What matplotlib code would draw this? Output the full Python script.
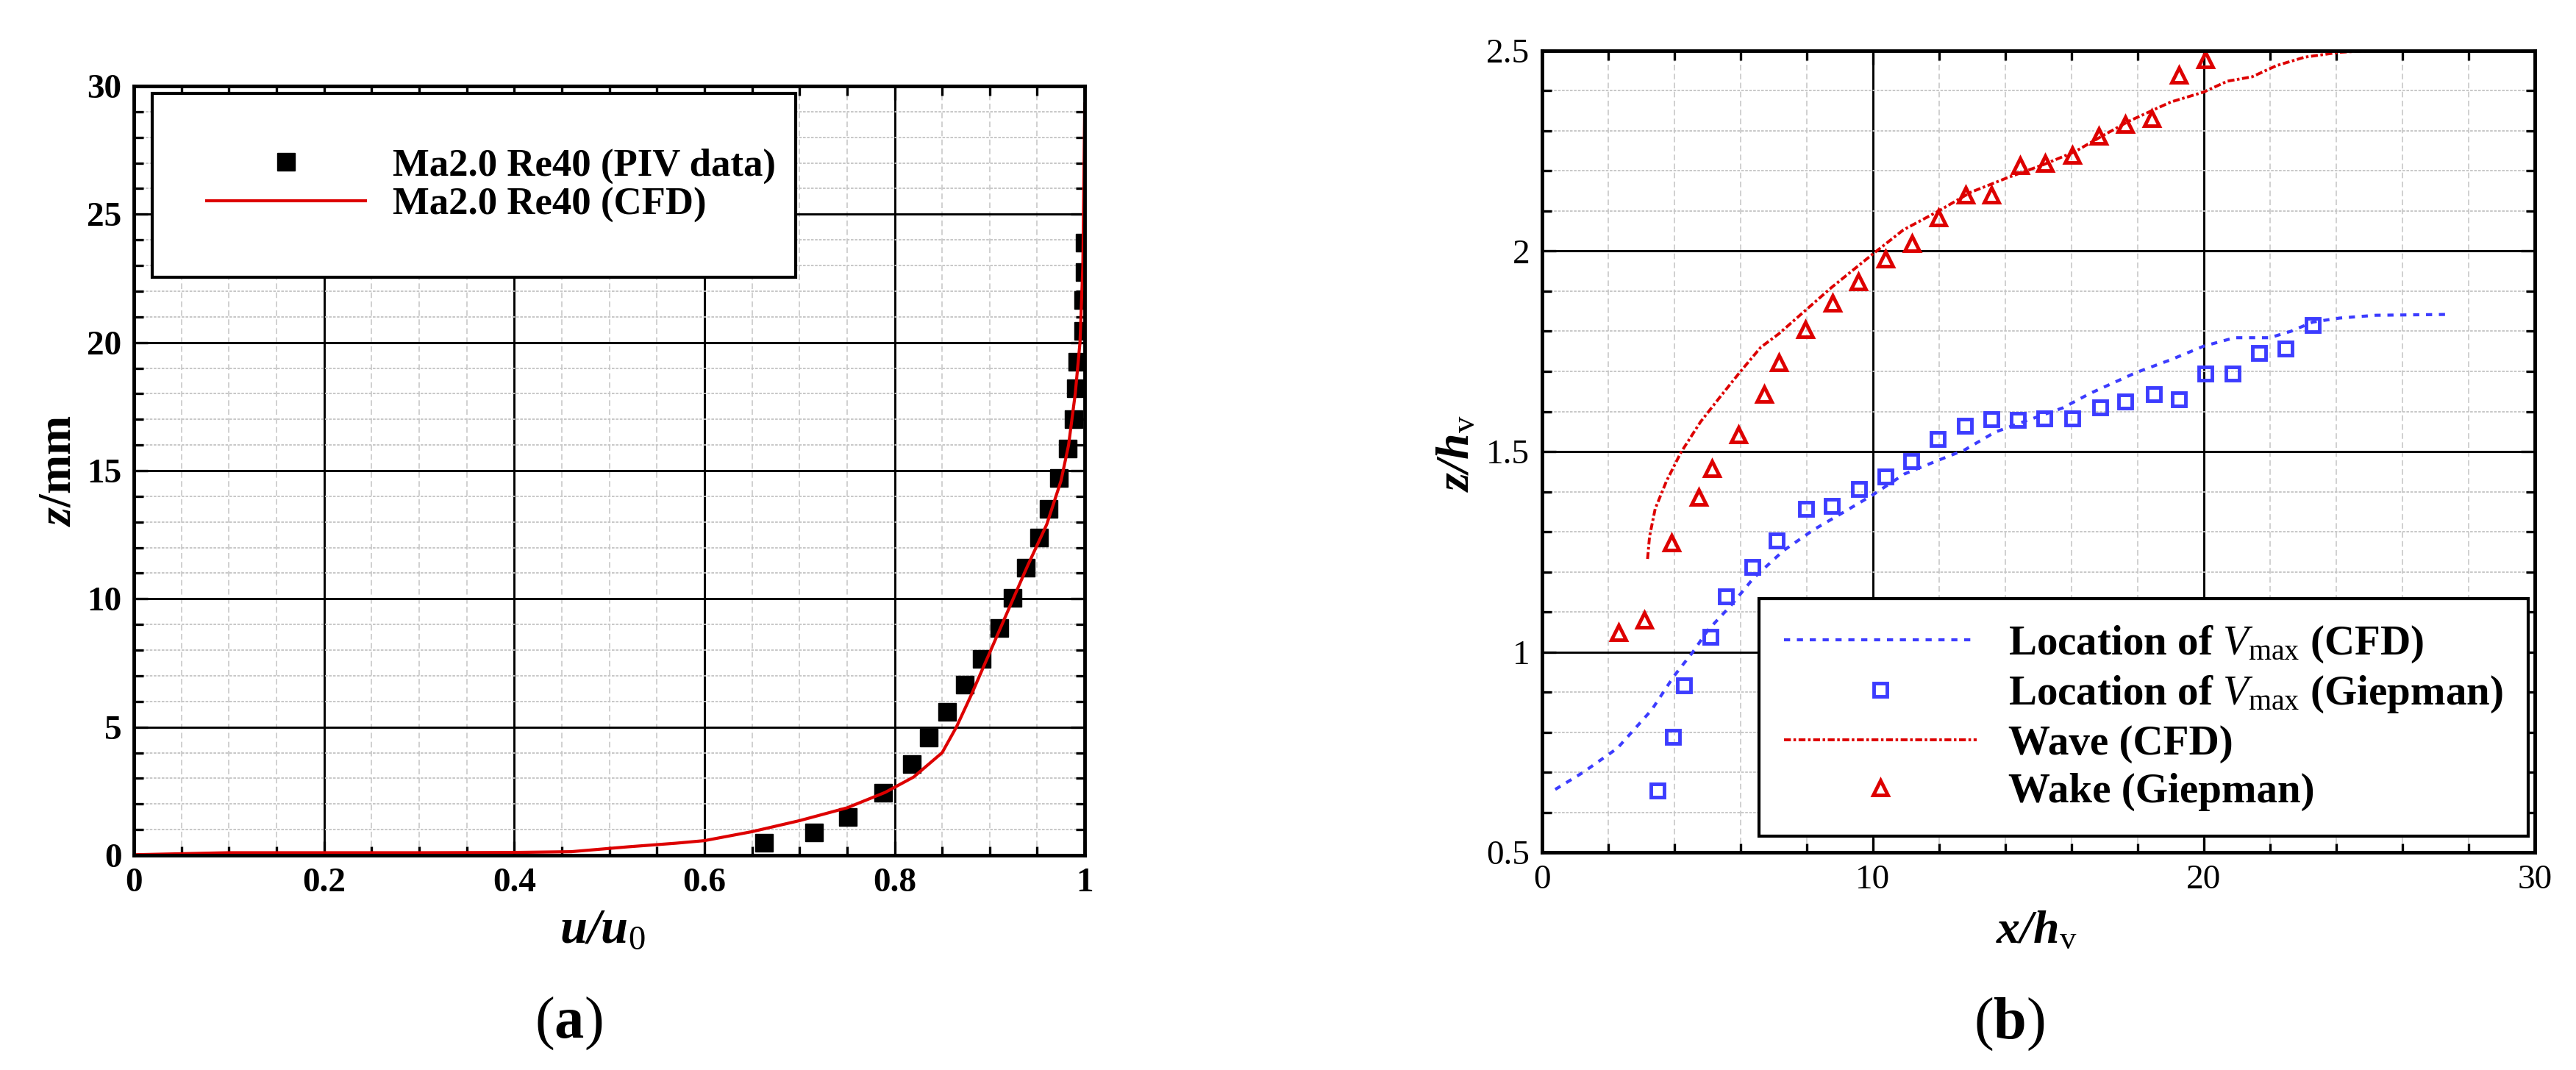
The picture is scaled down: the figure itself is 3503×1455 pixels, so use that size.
import numpy as np
import matplotlib
matplotlib.use("Agg")
import matplotlib.pyplot as plt
from matplotlib.ticker import MultipleLocator, FixedLocator, FixedFormatter

plt.rcParams['font.family'] = ['Liberation Serif', 'DejaVu Serif']
plt.rcParams['mathtext.fontset'] = 'custom'
plt.rcParams['mathtext.rm'] = 'Liberation Serif'
plt.rcParams['mathtext.it'] = 'Liberation Serif:italic'
plt.rcParams['mathtext.bf'] = 'Liberation Serif:bold'
plt.rcParams['mathtext.bfit'] = 'Liberation Serif:italic:bold'

# ---- (a) velocity profile ----
piv_u = [0.663, 0.715, 0.751, 0.788, 0.818, 0.836, 0.855, 0.874, 0.892, 0.910, 0.924, 0.938,
         0.952, 0.962, 0.973, 0.982, 0.988, 0.991, 0.992, 0.998, 0.998, 1.0, 1.0]
piv_z = [0.5, 0.9, 1.5, 2.45, 3.55, 4.6, 5.6, 6.65, 7.65, 8.85, 10.05, 11.2,
         12.4, 13.5, 14.7, 15.85, 17.0, 18.2, 19.25, 20.45, 21.65, 22.75, 23.9]
cfd_u = [0.0, 0.05, 0.1, 0.2, 0.3, 0.4, 0.46, 0.52, 0.57, 0.6, 0.65, 0.7, 0.75, 0.79, 0.82,
         0.85, 0.865, 0.88, 0.90, 0.92, 0.94, 0.96, 0.975, 0.983, 0.99, 0.995, 0.998, 0.999, 1.0]
cfd_z = [0.02, 0.06, 0.1, 0.1, 0.1, 0.11, 0.14, 0.33, 0.47, 0.57, 0.92, 1.35, 1.85, 2.45, 3.05,
         4.0, 5.0, 6.2, 7.9, 9.6, 11.3, 12.9, 14.6, 16.0, 18.0, 20.0, 23.0, 26.0, 29.3]
a_xticks = [0, 0.2, 0.4, 0.6, 0.8, 1.0]
a_xlabels = ['0', '0.2', '0.4', '0.6', '0.8', '1']
a_yticks = [0, 5, 10, 15, 20, 25, 30]
a_ylabels = ['0', '5', '10', '15', '20', '25', '30']

# ---- (b) vortex / wake location ----
vmax_cfd_x = [0.4, 1.25, 2.28, 3.31, 3.99, 4.56, 5.02, 5.7, 6.39, 7.3, 8.21, 9.12, 10.0, 10.95,
              11.97, 12.77, 13.68, 14.37, 15.74, 16.56, 17.95, 19.0, 20.0, 20.93, 21.99, 22.63,
              23.29, 24.1, 25.2, 27.3]
vmax_cfd_z = [0.657, 0.70, 0.76, 0.855, 0.94, 1.0, 1.055, 1.115, 1.184, 1.253, 1.305, 1.349, 1.392,
              1.444, 1.478, 1.504, 1.548, 1.569, 1.609, 1.645, 1.697, 1.729, 1.763, 1.784, 1.784,
              1.80, 1.823, 1.833, 1.84, 1.842]
vmax_exp_x = [3.5, 3.96, 4.28, 5.10, 5.55, 6.36, 7.10, 7.98, 8.75, 9.58, 10.38, 11.15, 11.95, 12.77,
              13.57, 14.37, 15.18, 16.03, 16.86, 17.63, 18.48, 19.24, 20.05, 20.87, 21.67, 22.47, 23.29]
vmax_exp_z = [0.655, 0.789, 0.916, 1.037, 1.139, 1.212, 1.278, 1.356, 1.364, 1.407, 1.437, 1.476,
              1.532, 1.565, 1.58, 1.578, 1.582, 1.582, 1.61, 1.624, 1.643, 1.631, 1.694, 1.694,
              1.746, 1.756, 1.816]
wave_cfd_x = [3.19, 3.25, 3.42, 3.76, 4.2, 4.79, 5.36, 5.99, 6.61, 7.16, 8.73, 10.0, 10.92, 11.94,
              12.96, 14.06, 15.16, 16.1, 16.88, 17.73, 19.0, 20.0, 20.71, 21.46, 22.2, 23.05, 24.1, 24.97]
wave_cfd_z = [1.232, 1.288, 1.357, 1.426, 1.498, 1.574, 1.634, 1.699, 1.76, 1.794, 1.908, 1.993,
              2.053, 2.098, 2.147, 2.183, 2.216, 2.248, 2.285, 2.324, 2.372, 2.397, 2.424, 2.435,
              2.463, 2.484, 2.496, 2.5]
wake_exp_x = [2.31, 3.10, 3.91, 4.73, 5.13, 5.94, 6.72, 7.16, 7.95, 8.78, 9.56, 10.38, 11.19, 11.99,
              12.81, 13.59, 14.45, 15.2, 16.02, 16.83, 17.63, 18.42, 19.24, 20.05]
wake_exp_z = [1.048, 1.080, 1.273, 1.386, 1.458, 1.543, 1.644, 1.722, 1.805, 1.871, 1.924, 1.98,
              2.019, 2.083, 2.141, 2.141, 2.214, 2.22, 2.24, 2.287, 2.317, 2.332, 2.44, 2.478]
b_xticks = [0, 10, 20, 30]
b_xlabels = ['0', '10', '20', '30']
b_yticks = [0.5, 1.0, 1.5, 2.0, 2.5]
b_ylabels = ['0.5', '1', '1.5', '2', '2.5']

RED = '#dd0000'
BLUE = '#3c3cff'


def tecplot_axes(ax, xticks, xlabels, yticks, ylabels, xminor, yminor, weight):
    ax.xaxis.set_major_locator(FixedLocator(xticks))
    ax.xaxis.set_major_formatter(FixedFormatter(xlabels))
    ax.yaxis.set_major_locator(FixedLocator(yticks))
    ax.yaxis.set_major_formatter(FixedFormatter(ylabels))
    ax.xaxis.set_minor_locator(MultipleLocator(xminor))
    ax.yaxis.set_minor_locator(MultipleLocator(yminor))
    ax.set_axisbelow(True)
    ax.grid(which='major', color='k', lw=2.1, ls='-')
    ax.grid(which='minor', axis='x', color='#c4c4c4', lw=1.1, ls=(0, (5, 3)))
    ax.grid(which='minor', axis='y', color='#c4c4c4', lw=1.3, ls=(0, (2, 1)))
    ax.tick_params(which='both', direction='in', top=True, right=True, width=2.4, color='k')
    ax.tick_params(which='major', length=14, pad=12, labelsize=34)
    ax.tick_params(which='minor', length=9)
    for lab in ax.get_xticklabels() + ax.get_yticklabels():
        lab.set_fontweight(weight)
    for sp in ax.spines.values():
        sp.set_linewidth(3.5)


fig = plt.figure(figsize=(35.03, 14.55), dpi=100)
ax1 = fig.add_axes([0.0520, 0.2007, 0.3691, 0.7189])
ax2 = fig.add_axes([0.5986, 0.2034, 0.3854, 0.7492])

# (a)
ax1.plot(piv_u, piv_z, ls='none', marker='s', ms=17, color='k', label='Ma2.0 Re40 (PIV data)')
ax1.plot(cfd_u, cfd_z, color=RED, lw=3, label='Ma2.0 Re40 (CFD)')
ax1.set_xlim(0, 1)
ax1.set_ylim(0, 30)
tecplot_axes(ax1, a_xticks, a_xlabels, a_yticks, a_ylabels, 0.05, 1, 'bold')
leg1 = ax1.legend(loc='upper left', bbox_to_anchor=(0.019, 0.0, 0.677, 0.99), mode='expand',
                  borderaxespad=0, prop={'size': 38, 'weight': 'bold'},
                  fancybox=False, edgecolor='k', framealpha=1, borderpad=1.4, handlelength=4.1,
                  handletextpad=0.7, labelspacing=0.1, numpoints=1)
leg1.get_frame().set_linewidth(3)
ax1.set_ylabel(r'$\mathbfit{z}$/mm', fontsize=46, fontweight='bold', va='center')
ax1.yaxis.set_label_coords(-0.079, 0.5)
ax1.set_xlabel(r'$\mathbfit{u/u}_{0}$', fontsize=48, va='center')
ax1.xaxis.set_label_coords(0.493, -0.0975)
ax1.text(0.457, -0.219, r'($\mathbf{a}$)', transform=ax1.transAxes, fontsize=58,
         ha='center', va='center')

# (b)
ax2.plot(vmax_cfd_x, vmax_cfd_z, color=BLUE, lw=3, ls=(0, (2, 2.2)),
         label=r'Location of $V_{\mathrm{max}}$ (CFD)')
ax2.plot(vmax_exp_x, vmax_exp_z, ls='none', marker='s', ms=13, mfc='none', mec=BLUE, mew=3.5,
         label=r'Location of $V_{\mathrm{max}}$ (Giepman)')
ax2.plot(wave_cfd_x, wave_cfd_z, color=RED, lw=2.8, ls=(0, (2.4, 0.9, 0.9, 0.9)),
         label='Wave (CFD)')
ax2.plot(wake_exp_x, wake_exp_z, ls='none', marker='^', ms=15, mfc='none', mec=RED, mew=3.5,
         label='Wake (Giepman)')
ax2.set_xlim(0, 30)
ax2.set_ylim(0.5, 2.5)
tecplot_axes(ax2, b_xticks, b_xlabels, b_yticks, b_ylabels, 2, 0.1, 'normal')
leg2 = ax2.legend(loc='lower right', bbox_to_anchor=(0.993, 0.02), borderaxespad=0,
                  prop={'size': 41, 'weight': 'bold'},
                  fancybox=False, edgecolor='k', framealpha=1, borderpad=0.6, handlelength=4.6,
                  handletextpad=0.75, labelspacing=0.23, numpoints=1)
leg2.get_frame().set_linewidth(3)
ax2.set_ylabel(r'$\mathbfit{z/h}_{\mathrm{v}}$', fontsize=46, va='center')
ax2.yaxis.set_label_coords(-0.085, 0.498)
ax2.set_xlabel(r'$\mathbfit{x/h}_{\mathrm{v}}$', fontsize=46, va='center')
ax2.xaxis.set_label_coords(0.4985, -0.099)
ax2.text(0.471, -0.214, r'($\mathbf{b}$)', transform=ax2.transAxes, fontsize=58,
         ha='center', va='center')

fig.savefig('out.png', dpi=100)
